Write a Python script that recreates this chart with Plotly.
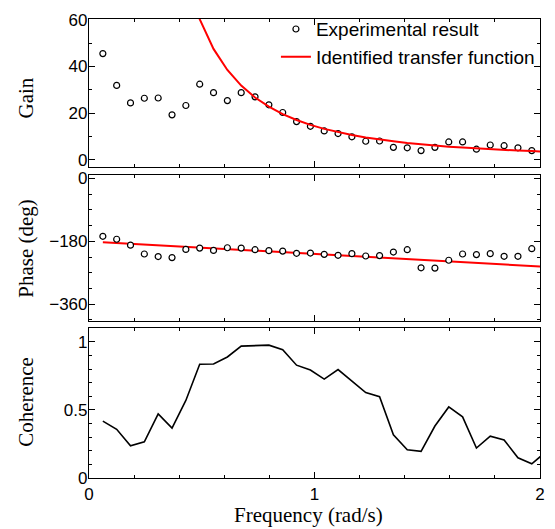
import plotly.graph_objects as go

# ---------------- data ----------------
freq = [0.0614, 0.1227, 0.1841, 0.2454, 0.3068, 0.3682, 0.4295, 0.4909, 0.5522, 0.6136,
        0.6750, 0.7363, 0.7977, 0.8590, 0.9204, 0.9818, 1.0431, 1.1045, 1.1658, 1.2272,
        1.2886, 1.3499, 1.4113, 1.4726, 1.5340, 1.5954, 1.6567, 1.7181, 1.7794, 1.8408,
        1.9022, 1.9635]
freq_line = freq + [2.0249]

gain_exp = [45.5, 31.9, 24.4, 26.4, 26.5, 19.3, 23.3, 32.4, 28.8, 25.4,
            28.8, 27.0, 23.6, 20.3, 16.4, 14.4, 12.4, 11.3, 9.9, 8.0,
            8.1, 5.4, 5.2, 4.0, 5.4, 7.7, 7.7, 4.6, 6.4, 6.1,
            5.2, 4.0]
gain_tf_freq = freq_line[6:]
gain_tf = [78.6, 60.2, 47.5, 38.5, 31.8, 26.7, 22.8, 19.6, 17.1, 15.0,
           13.3, 11.9, 10.7, 9.6, 8.7, 8.0, 7.3, 6.7, 6.2, 5.7,
           5.3, 4.9, 4.6, 4.3, 4.0, 3.8, 3.5]

phase_exp = [-165.5, -173.9, -190.8, -216.2, -223.5, -226.4, -203.0, -199.3, -205.8, -198.2,
             -199.3, -203.8, -206.6, -207.8, -214.2, -213.4, -217.1, -219.9, -215.1, -221.9,
             -220.7, -210.6, -203.8, -255.7, -256.5, -234.0, -216.2, -217.9, -215.1, -222.7,
             -222.7, -201.0]
phase_tf = [-182.4, -184.6, -186.8, -189.0, -191.2, -193.4, -195.6, -197.7, -199.9, -202.1,
            -204.3, -206.5, -208.7, -210.9, -213.1, -215.3, -217.5, -219.7, -221.9, -224.1,
            -226.3, -228.5, -230.7, -232.8, -235.0, -237.2, -239.4, -241.6, -243.8, -246.0,
            -248.2, -250.4, -252.6]

coherence = [0.418, 0.358, 0.237, 0.266, 0.471, 0.367, 0.570, 0.836, 0.838, 0.889,
             0.969, 0.971, 0.976, 0.942, 0.829, 0.793, 0.727, 0.797, 0.713, 0.628,
             0.597, 0.317, 0.208, 0.196, 0.382, 0.522, 0.449, 0.220, 0.307, 0.280,
             0.148, 0.104, 0.190]

legend_names = ["Experimental result", "Identified transfer function"]
x_title = "Frequency (rad/s)"
y_titles = ["Gain", "Phase (deg)", "Coherence"]

# ---------------- figure ----------------
W, H = 555, 529
ML, MR, MT, MB = 89, 10, 12, 51
PW, PH = W - ML - MR, H - MT - MB

def py(pix):
    return (H - MB - pix) / PH

def px(pix):
    return (pix - ML) / PW

SANS = "Liberation Sans, Arial, sans-serif"
SERIF = "Liberation Serif, Times New Roman, serif"

marker_style = dict(symbol="circle", size=6, color="white", line=dict(color="black", width=1.2))

fig = go.Figure()
fig.add_trace(go.Scatter(x=freq, y=gain_exp, mode="markers", marker=marker_style,
                         name=legend_names[0], xaxis="x", yaxis="y", cliponaxis=True))
fig.add_trace(go.Scatter(x=gain_tf_freq, y=gain_tf, mode="lines", line=dict(color="#ff0000", width=2),
                         name=legend_names[1], xaxis="x", yaxis="y"))
fig.add_trace(go.Scatter(x=freq_line, y=phase_tf, mode="lines", line=dict(color="#ff0000", width=2),
                         showlegend=False, xaxis="x2", yaxis="y2"))
fig.add_trace(go.Scatter(x=freq, y=phase_exp, mode="markers", marker=marker_style,
                         showlegend=False, xaxis="x2", yaxis="y2"))
fig.add_trace(go.Scatter(x=freq_line, y=coherence, mode="lines", line=dict(color="black", width=1.6),
                         showlegend=False, xaxis="x3", yaxis="y3"))

common_x = dict(range=[0, 2], tick0=0, dtick=1, ticks="inside", ticklen=6, tickwidth=1,
                tickcolor="black", showline=True, linecolor="black", linewidth=1.2,
                mirror="allticks", showgrid=False, zeroline=False,
                minor=dict(dtick=0.2, tick0=0, ticks="inside", ticklen=3, tickcolor="black", showgrid=False),
                tickfont=dict(family=SANS, size=17, color="black"))
common_y = dict(ticks="inside", ticklen=6, tickwidth=1, tickcolor="black", showline=True,
                linecolor="black", linewidth=1.2, mirror="allticks", showgrid=False, zeroline=False,
                ticklabelstandoff=-3,
                tickfont=dict(family=SANS, size=17, color="black"))

d1 = [py(162.7), 1.0]
d2 = [py(319), py(170)]
d3 = [0.0, py(326)]

fig.update_layout(
    width=W, height=H, margin=dict(l=ML, r=MR, t=MT, b=MB),
    paper_bgcolor="white", plot_bgcolor="white",
    showlegend=True,
    legend=dict(x=px(278), y=py(3), xanchor="left", yanchor="top",
                bgcolor="rgba(0,0,0,0)", font=dict(family=SANS, size=19, color="black"),
                tracegroupgap=0),
    xaxis=dict(common_x, anchor="y", domain=[0, 1], showticklabels=False),
    xaxis2=dict(common_x, anchor="y2", domain=[0, 1], showticklabels=False, matches="x"),
    xaxis3=dict(common_x, anchor="y3", domain=[0, 1], showticklabels=True, matches="x"),
    yaxis=dict(common_y, domain=d1, range=[-3.2, 60.3], tick0=0, dtick=20,
               minor=dict(dtick=10, tick0=0, ticks="inside", ticklen=3, tickcolor="black", showgrid=False)),
    yaxis2=dict(common_y, domain=d2, range=[-409, 11], tick0=0, dtick=180,
                minor=dict(dtick=45, tick0=0, ticks="inside", ticklen=3, tickcolor="black", showgrid=False)),
    yaxis3=dict(common_y, domain=d3, range=[0, 1.1], tick0=0, dtick=0.5,
                minor=dict(dtick=0.1, tick0=0, ticks="inside", ticklen=3, tickcolor="black", showgrid=False)),
)

ann = []
title_y = [92, 244.5, 401]
for t, yy in zip(y_titles, title_y):
    ann.append(dict(text=t, xref="paper", yref="paper", x=px(25), y=py(yy), xanchor="center",
                    yanchor="middle", textangle=-90, showarrow=False,
                    font=dict(family=SERIF, size=21, color="black")))
ann.append(dict(text=x_title, xref="paper", yref="paper", x=px(311), y=py(516), xanchor="center",
                yanchor="middle", showarrow=False, font=dict(family=SERIF, size=21, color="black")))
fig.update_layout(annotations=ann)

fig.write_html("out.html", config={"displayModeBar": False},
               post_script="document.body.style.margin='0px';")
